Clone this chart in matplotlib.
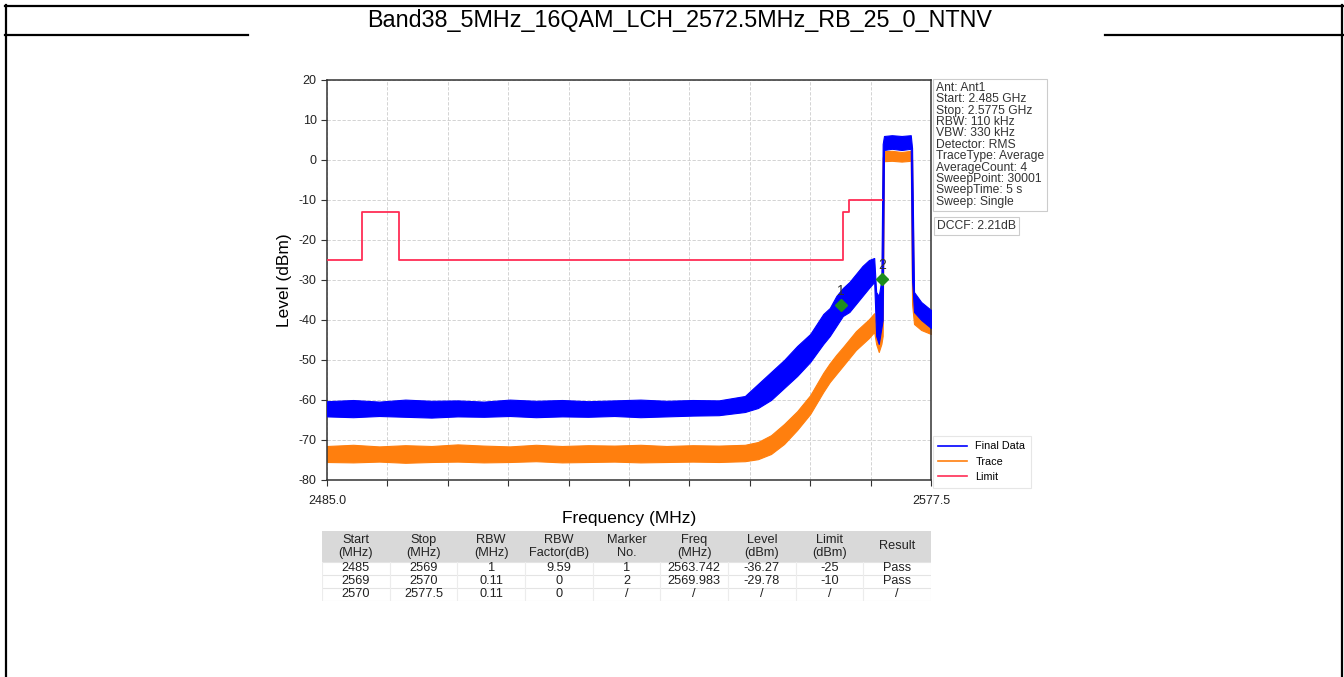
import numpy as np
import matplotlib
matplotlib.use("Agg")
import matplotlib.pyplot as plt
from matplotlib.lines import Line2D

plt.rcParams['font.family'] = ['Liberation Sans', 'DejaVu Sans']
plt.rcParams['axes.unicode_minus'] = False

# -----------------------------
# Data
# -----------------------------
title = "Band38_5MHz_16QAM_LCH_2572.5MHz_RB_25_0_NTNV"

freq = [2485, 2489, 2493, 2497, 2501, 2505, 2509, 2513, 2517, 2521, 2525, 2529,
        2533, 2537, 2541, 2545,
        2549, 2551, 2553, 2555, 2557, 2559, 2561, 2562, 2563, 2564, 2565, 2566,
        2567, 2568, 2568.8,
        2569.1, 2569.5, 2569.9, 2570.1, 2570.3, 2571.5, 2573, 2574.4, 2574.6,
        2574.9, 2576, 2577.5]

# Final Data (blue) noise envelope
final_hi = [-60.3, -60.0, -60.4, -59.9, -60.2, -60.1, -60.4, -59.9, -60.2, -60.0,
            -60.3, -60.1, -59.9, -60.2, -60.0, -60.1,
            -59.0, -56.0, -53.0, -50.0, -46.5, -43.5, -38.5, -37.0, -34.0, -32.0,
            -30.5, -28.5, -26.5, -25.0, -24.5,
            -33.0, -34.0, -30.0, 4.0, 6.0, 6.2, 6.0, 6.2, 3.0, -33.0, -35.5, -37.5]
final_lo = [-64.1, -64.3, -64.0, -64.2, -64.4, -64.1, -64.2, -64.0, -64.3, -64.1,
            -64.2, -64.0, -64.3, -64.1, -63.9, -63.8,
            -63.0, -62.0, -60.0, -57.0, -54.0, -50.5, -46.0, -44.0, -41.5, -39.0,
            -38.0, -36.0, -34.0, -32.0, -30.5,
            -44.0, -46.0, -42.0, -40.0, 2.5, 2.8, 2.5, 2.8, -30.0, -38.0, -40.0, -42.0]

# Trace (orange) noise envelope
trace_hi = [-71.5, -71.2, -71.6, -71.3, -71.5, -71.1, -71.4, -71.6, -71.2, -71.5,
            -71.3, -71.4, -71.2, -71.5, -71.3, -71.4,
            -71.2, -70.5, -68.8, -66.0, -62.8, -58.8, -53.2, -50.8, -48.7, -46.8,
            -44.8, -42.8, -41.3, -39.8, -38.3,
            -43.0, -45.0, -41.0, 0.5, 2.2, 2.3, 2.0, 2.3, 0.0, -37.5, -39.5, -40.5]
trace_lo = [-75.5, -75.6, -75.4, -75.7, -75.5, -75.4, -75.6, -75.5, -75.3, -75.6,
            -75.5, -75.4, -75.6, -75.5, -75.4, -75.5,
            -75.3, -74.8, -73.5, -71.0, -67.5, -63.5, -58.0, -55.5, -53.5, -51.5,
            -49.5, -47.5, -46.0, -44.5, -43.0,
            -46.0, -48.0, -46.0, -44.0, -0.3, -0.2, -0.4, -0.2, -36.0, -41.0, -42.5, -43.5]

# Limit line (step, post)
limit_freq = [2485, 2490.4, 2496, 2564, 2565, 2570]
limit_level = [-25, -13, -25, -13, -10, -10]

# Markers
marker_freq = [2563.742, 2569.983]
marker_level = [-36.27, -29.78]
marker_no = ['1', '2']

info_lines = ["Ant: Ant1", "Start: 2.485 GHz", "Stop: 2.5775 GHz", "RBW: 110 kHz",
              "VBW: 330 kHz", "Detector: RMS", "TraceType: Average",
              "AverageCount: 4", "SweepPoint: 30001", "SweepTime: 5 s",
              "Sweep: Single"]
dccf = "DCCF: 2.21dB"

table_header = ["Start\n(MHz)", "Stop\n(MHz)", "RBW\n(MHz)", "RBW\nFactor(dB)",
                "Marker\nNo.", "Freq\n(MHz)", "Level\n(dBm)", "Limit\n(dBm)", "Result"]
table_rows = [
    ["2485", "2569", "1", "9.59", "1", "2563.742", "-36.27", "-25", "Pass"],
    ["2569", "2570", "0.11", "0", "2", "2569.983", "-29.78", "-10", "Pass"],
    ["2570", "2577.5", "0.11", "0", "/", "/", "/", "/", "/"],
]

BLUE = '#0000ff'
ORANGE = '#ff7f0e'
LIMIT = '#ff2d55'
GREEN = '#1e8c1e'

W, H = 1344, 677
fig = plt.figure(figsize=(W / 100, H / 100), dpi=100)

# -----------------------------
# Page frame (report table)
# -----------------------------
bg = fig.add_axes([0, 0, 1, 1])
bg.set_xlim(0, W)
bg.set_ylim(H, 0)
bg.axis('off')
lw = 1.6
bg.plot([5, 1343], [6, 6], color='k', lw=lw)
bg.plot([5, 248], [34.5, 34.5], color='k', lw=lw)
bg.plot([1105, 1343], [34.5, 34.5], color='k', lw=lw)
bg.plot([6, 6], [5, H], color='k', lw=lw)
bg.plot([1342, 1342], [5, H], color='k', lw=lw)
bg.text(680, 20.5, title, ha='center', va='center', fontsize=16.8)

# -----------------------------
# Spectrum plot
# -----------------------------
ax = fig.add_axes([327 / W, 1 - 480 / H, 604 / W, 400 / H])
ax.fill_between(freq, trace_lo, trace_hi, color=ORANGE, lw=0.8, edgecolor=ORANGE, zorder=2)
ax.fill_between(freq, final_lo, final_hi, color=BLUE, lw=0.8, edgecolor=BLUE, zorder=3)
ax.step(limit_freq, limit_level, where='post', color=LIMIT, lw=1.3, zorder=4)

ax.plot(marker_freq, marker_level, 'D', color=GREEN, ms=6, zorder=5)
for f, l, n in zip(marker_freq, marker_level, marker_no):
    ax.annotate(n, (f, l), xytext=(0, 5), textcoords='offset points',
                ha='center', va='bottom', fontsize=10, color='#333333', zorder=6)

ax.set_xlim(2485, 2577.5)
ax.set_ylim(-80, 20)
xt = np.linspace(2485, 2577.5, 11)
ax.set_xticks(xt)
ax.set_xticklabels(['2485.0'] + [''] * 9 + ['2577.5'])
ax.set_yticks(np.arange(-80, 21, 10))
ax.tick_params(labelsize=9, length=4, color='#333333', labelcolor='#222222')
ax.tick_params(axis='x', pad=7)
ax.grid(True, color='#cccccc', linestyle=(0, (4, 2)), lw=0.6)
ax.set_axisbelow(True)
for s in ax.spines.values():
    s.set_color('#333333')
    s.set_linewidth(1.1)
ax.set_xlabel('Frequency (MHz)', fontsize=12.5, labelpad=3)
ax.set_ylabel('Level (dBm)', fontsize=12.5, labelpad=5)

# Legend
handles = [Line2D([], [], color=BLUE, lw=1.2),
           Line2D([], [], color=ORANGE, lw=1.2),
           Line2D([], [], color=LIMIT, lw=1.2)]
leg = fig.legend(handles, ['Final Data', 'Trace', 'Limit'], loc='upper left',
                 bbox_to_anchor=(933 / W, 1 - 436 / H), fontsize=7.8,
                 frameon=True, fancybox=False, handlelength=2.6,
                 borderpad=0.5, labelspacing=0.5, borderaxespad=0)
leg.get_frame().set_edgecolor('#e0e0e0')
leg.get_frame().set_linewidth(0.8)

# Info boxes
fig.text(936 / W, 1 - 82 / H, "\n".join(info_lines), ha='left', va='top',
         fontsize=8.7, linespacing=0.93, color='#333333',
         bbox=dict(boxstyle='square,pad=0.25', fc='white', ec='#cccccc', lw=0.8))
fig.text(937 / W, 1 - 226 / H, dccf, ha='left', va='center', fontsize=8.7,
         color='#333333',
         bbox=dict(boxstyle='square,pad=0.25', fc='white', ec='#cccccc', lw=0.8))

# -----------------------------
# Result table
# -----------------------------
tax = fig.add_axes([322 / W, 1 - 601 / H, 609 / W, 70 / H])
ncol = len(table_header)
hdr_h = 2.35
tot = hdr_h + len(table_rows)
tax.set_xlim(0, ncol)
tax.set_ylim(tot, 0)
tax.axis('off')
tax.fill_between([0, ncol], 0, hdr_h, color='#d9d9d9', lw=0)
for r in range(len(table_rows) + 1):
    y = hdr_h + r
    tax.plot([0, ncol], [y, y], color='#e4e4e4', lw=0.8)
for c in range(ncol + 1):
    tax.plot([c, c], [hdr_h, tot], color='#ececec', lw=0.8)
for c, h in enumerate(table_header):
    tax.text(c + 0.5, hdr_h / 2, h, ha='center', va='center', fontsize=9.2,
             linespacing=1.1, color='#222222')
for r, row in enumerate(table_rows):
    for c, v in enumerate(row):
        tax.text(c + 0.5, hdr_h + r + 0.5, v, ha='center', va='center',
                 fontsize=9.2, color='#222222')

fig.savefig('out.png', dpi=100)
